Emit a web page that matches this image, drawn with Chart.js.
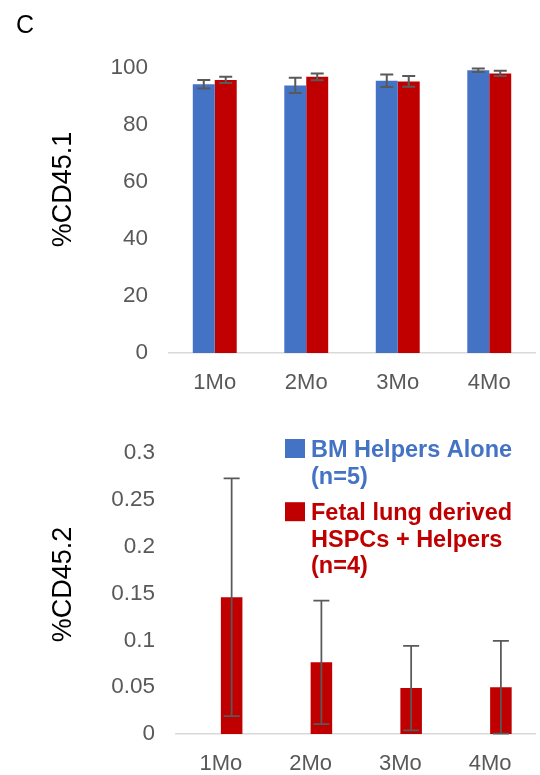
<!DOCTYPE html>
<html>
<head>
<meta charset="utf-8">
<title>%CD45.1 / %CD45.2</title>
<script src="https://cdn.jsdelivr.net/npm/chart.js@4.4.1/dist/chart.umd.min.js"></script>
<style>
  body { margin: 0; background: #fff; }
  #wrap { position: relative; width: 540px; height: 775px; }
  #panel-label { position: absolute; left: 16px; top: 12px; font: 25px 'Liberation Sans', Arial, sans-serif; line-height: 25px; color: #000; }
  #top-chart { position: absolute; left: 0; top: 0; }
  #bottom-chart { position: absolute; left: 0; top: 400px; }
</style>
</head>
<body>
<div id="wrap">
  <canvas id="top-chart" width="540" height="400"></canvas>
  <canvas id="bottom-chart" width="540" height="375"></canvas>
  <div id="panel-label">C</div>
</div>
<script>
'use strict';

// Data
let months = ['1Mo', '2Mo', '3Mo', '4Mo'];
let seriesNames = ['BM Helpers Alone (n=5)', 'Fetal lung derived HSPCs + Helpers (n=4)'];
let legendLines = [['BM Helpers Alone', '(n=5)'], ['Fetal lung derived', 'HSPCs + Helpers', '(n=4)']];

let cd451Helpers = [94.3, 93.9, 95.5, 99.2];
let cd451HelpersErr = [1.5, 2.7, 2.2, 0.6];
let cd451Fetal = [95.8, 96.9, 95.3, 98.1];
let cd451FetalErr = [1.1, 1.2, 1.9, 0.9];
let cd451Ticks = [0, 20, 40, 60, 80, 100];

let cd452Helpers = [0, 0, 0, 0];
let cd452HelpersErr = [0, 0, 0, 0];
let cd452Fetal = [0.146, 0.0765, 0.049, 0.0498];
let cd452FetalErr = [0.127, 0.066, 0.045, 0.0495];
let cd452Ticks = [0, 0.05, 0.1, 0.15, 0.2, 0.25, 0.3];

// Styles
const blue = '#4472C4';
const red = '#C00000';
const tickGray = '#595959';
const fontFamily = "'Liberation Sans', Arial, sans-serif";

Chart.defaults.font.family = fontFamily;

// error bars drawn from each dataset's errors array
const errorBars = {
  id: 'errorBars',
  afterDatasetsDraw(chart, args, opts) {
    const ctx = chart.ctx;
    const yScale = chart.scales.y;
    const half = opts.cap / 2;
    ctx.save();
    ctx.strokeStyle = opts.color;
    ctx.lineWidth = opts.width;
    chart.data.datasets.forEach((ds, i) => {
      chart.getDatasetMeta(i).data.forEach((bar, j) => {
        const err = ds.errors[j];
        if (!err) {
          return;
        }
        const top = yScale.getPixelForValue(ds.data[j] + err);
        const bottom = yScale.getPixelForValue(Math.max(ds.data[j] - err, 0));
        ctx.beginPath();
        ctx.moveTo(bar.x, top);
        ctx.lineTo(bar.x, bottom);
        ctx.moveTo(bar.x - half, top);
        ctx.lineTo(bar.x + half, top);
        ctx.moveTo(bar.x - half, bottom);
        ctx.lineTo(bar.x + half, bottom);
        ctx.stroke();
      });
    });
    ctx.restore();
  }
};

// y axis title, sits a little above the middle of the plot like the original
const sideTitle = {
  id: 'sideTitle',
  afterDraw(chart, args, opts) {
    const ctx = chart.ctx;
    const area = chart.chartArea;
    ctx.save();
    ctx.translate(opts.x, (area.top + area.bottom) / 2 + opts.dy);
    ctx.rotate(-Math.PI / 2);
    ctx.font = opts.size + 'px ' + fontFamily;
    ctx.fillStyle = '#000';
    ctx.textAlign = 'center';
    ctx.textBaseline = 'middle';
    ctx.fillText(opts.text, 0, 0);
    ctx.restore();
  }
};

// legend drawn inside the plot, multi-line labels
const insideLegend = {
  id: 'insideLegend',
  afterDraw(chart, args, opts) {
    if (!opts.lines) {
      return;
    }
    const ctx = chart.ctx;
    ctx.save();
    ctx.font = 'bold ' + opts.size + 'px ' + fontFamily;
    ctx.textBaseline = 'alphabetic';
    let y = opts.y;
    chart.data.datasets.forEach((ds, i) => {
      const lines = opts.lines[i];
      ctx.fillStyle = ds.backgroundColor;
      ctx.fillRect(opts.x, y - 18, 20, 19);
      lines.forEach((line, k) => {
        ctx.fillText(line, opts.x + 26, y + k * opts.lineHeight);
      });
      y += (lines.length - 1) * opts.lineHeight + opts.itemGap;
    });
    ctx.restore();
  }
};

function makeChart(canvasId, helpers, helpersErr, fetal, fetalErr, tickValues, title, opts) {
  const ctx = document.getElementById(canvasId).getContext('2d');
  return new Chart(ctx, {
    type: 'bar',
    data: {
      labels: months,
      datasets: [{
        label: seriesNames[0],
        data: helpers,
        errors: helpersErr,
        backgroundColor: blue,
        categoryPercentage: 0.48,
        barPercentage: 1
      },
      {
        label: seriesNames[1],
        data: fetal,
        errors: fetalErr,
        backgroundColor: red,
        categoryPercentage: 0.48,
        barPercentage: 1
      }]
    },
    plugins: [errorBars, sideTitle, insideLegend],
    options: {
      responsive: false,
      animation: false,
      layout: { padding: { top: opts.top, right: 5, bottom: 0, left: 0 } },
      plugins: {
        legend: { display: false },
        tooltip: { enabled: false },
        errorBars: { color: tickGray, width: opts.errWidth, cap: opts.cap },
        sideTitle: { text: title, x: 64, dy: opts.titleDy, size: 27 },
        insideLegend: opts.legend || {}
      },
      scales: {
        x: {
          grid: { display: false, drawTicks: false },
          border: { color: '#D9D9D9', width: 1.5 },
          ticks: { color: tickGray, font: { size: 22 }, padding: 17 },
          afterFit: (s) => { s.height = opts.xHeight; }
        },
        y: {
          min: 0,
          max: tickValues[tickValues.length - 1],
          grid: { display: false, drawTicks: false },
          border: { display: false },
          ticks: {
            color: tickGray,
            font: { size: 22.5 },
            padding: 21,
            callback: (v) => String(v)
          },
          afterBuildTicks: (s) => { s.ticks = tickValues.map((v) => ({ value: v })); },
          afterFit: (s) => { s.width = opts.yWidth; }
        }
      }
    }
  });
}

makeChart('top-chart', cd451Helpers, cd451HelpersErr, cd451Fetal, cd451FetalErr, cd451Ticks, '%CD45.1',
  { top: 68, xHeight: 47, yWidth: 169, cap: 13, errWidth: 2, titleDy: -21 });

makeChart('bottom-chart', cd452Helpers, cd452HelpersErr, cd452Fetal, cd452FetalErr, cd452Ticks, '%CD45.2',
  { top: 53, xHeight: 41, yWidth: 176, cap: 16, errWidth: 1.75, titleDy: -9,
    legend: { lines: legendLines, x: 285, y: 57, size: 23.5, lineHeight: 26.5, itemGap: 36.7 } });
</script>
</body>
</html>
